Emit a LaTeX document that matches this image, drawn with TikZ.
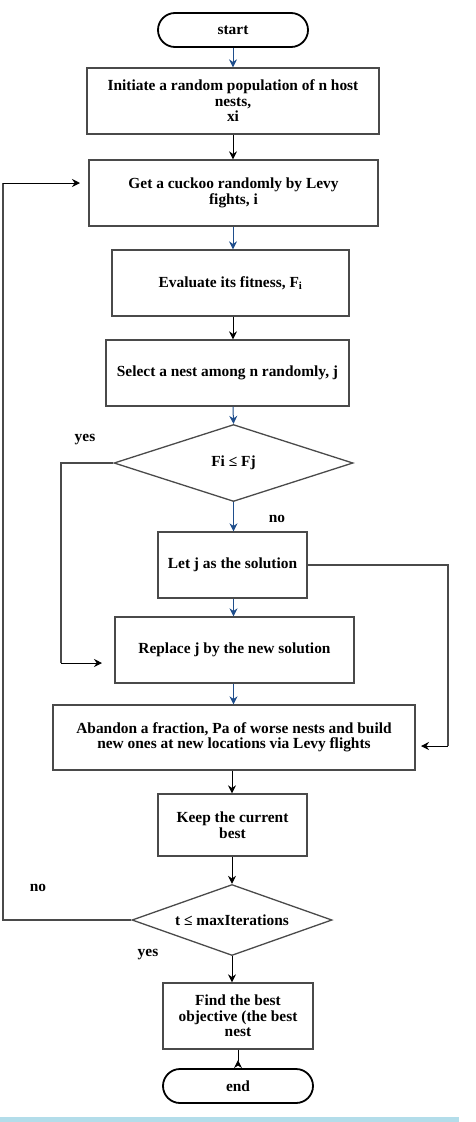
\documentclass[tikz,border=0pt]{standalone}
\usepackage{fontspec}
\setmainfont{Liberation Serif}
\usetikzlibrary{shapes.geometric,arrows.meta}
\definecolor{arrblue}{HTML}{1F4E8C}
\definecolor{boxgray}{HTML}{4A4A4A}
\definecolor{bandblue}{HTML}{B3DDEA}
\begin{document}
\begin{tikzpicture}[x=1pt,y=-1pt,
  txt/.style={font=\fontsize{15.4}{15.5}\selectfont\bfseries, align=center},
  procbox/.style={draw=boxgray, line width=1.3pt, rectangle, inner sep=2pt, txt},
  term/.style={draw=black, line width=1.8pt, rectangle, rounded corners=17pt, minimum width=150pt, minimum height=34pt, txt},
  decis/.style={draw=boxgray, line width=1.3pt, diamond, inner sep=0pt, txt},
  blk/.style={draw=black, line width=1pt, -{Stealth[length=8pt,width=8pt]}},
  blu/.style={draw=arrblue, line width=1pt, -{Stealth[length=8pt,width=8pt]}},
  lin/.style={draw=boxgray, line width=1.3pt},
  lbl/.style={font=\fontsize{15.4}{15.5}\selectfont\bfseries}
]
\useasboundingbox (0,0) rectangle (475,1122);
\fill[bandblue] (0,1117) rectangle (459,1122);

\node[term] (start) at (233,30) {start};
\node[procbox, minimum width=292pt, minimum height=66pt] (init) at (233,101)
  {Initiate a random population of n host\\nests,\\xi};
\node[procbox, minimum width=289pt, minimum height=66pt] (cuckoo) at (233.5,193)
  {Get a cuckoo randomly by Levy\\fights, i};
\node[procbox, minimum width=237pt, minimum height=66pt] (eval) at (230.5,283)
  {Evaluate its fitness, F\textsubscript{i}};
\node[procbox, minimum width=243pt, minimum height=66pt] (select) at (227.5,373)
  {Select a nest among n randomly, j};
\node[decis, aspect=3.1, minimum width=239pt, minimum height=77pt] (dec1) at (233.5,463) {Fi ≤ Fj};
\node[procbox, minimum width=149pt, minimum height=66pt] (let) at (232.5,565)
  {Let j as the solution};
\node[procbox, minimum width=239pt, minimum height=66pt] (replace) at (234.5,650)
  {Replace j by the new solution};
\node[procbox, minimum width=362pt, minimum height=65pt] (abandon) at (234,737.5)
  {Abandon a fraction, Pa of worse nests and build\\new ones at new locations via Levy flights};
\node[procbox, minimum width=149pt, minimum height=62pt] (keep) at (232.5,825)
  {Keep the current\\best};
\node[decis, aspect=2.8, minimum width=200pt, minimum height=71pt] (dec2) at (232,920) {t ≤ maxIterations};
\node[procbox, minimum width=150pt, minimum height=66pt] (find) at (238,1016)
  {Find the best\\objective (the best\\nest};
\node[term] (end) at (238,1086) {end};

\node[lbl] (yes1) at (85,440) {yes};
\node[lbl] (no1) at (277,519) {no};
\node[lbl] (no2) at (38,888) {no};
\node[lbl] (yes2) at (148,955) {yes};

\coordinate (c1) at (233,0);
\draw[blu] (start.south -| c1) -- (init.north -| c1);
\draw[blk] (init.south -| c1) -- (cuckoo.north -| c1);
\draw[blu] (cuckoo.south -| c1) -- (eval.north -| c1);
\draw[blk] (eval.south -| c1) -- (select.north -| c1);
\draw[blu] (select.south -| c1) -- (dec1.north);
\draw[blu] (dec1.south) -- (let.north -| dec1.south);
\draw[blu] (let.south -| dec1.south) -- (replace.north -| dec1.south);
\draw[blu] (replace.south -| dec1.south) -- (abandon.north -| dec1.south);
\draw[blk] (abandon.south -| dec2.north) -- (keep.north -| dec2.north);
\draw[blk] (keep.south -| dec2.north) -- (dec2.north);
\draw[blk] (dec2.south) -- (find.north -| dec2.south);
\draw[line width=1pt, -{Stealth[length=8pt,width=8pt,reversed]}] (find.south) -- (end.north);

\coordinate (y1a) at (61,463);
\coordinate (y1b) at (61,663);
\coordinate (y1e) at (102,663);
\draw[lin] (dec1.west) -- (y1a) -- (y1b);
\draw[blk] (y1b) -- (y1e);

\coordinate (r1a) at (448,565);
\coordinate (r1b) at (448,746);
\coordinate (r1e) at (421,746);
\draw[lin] (let.east) -- (r1a) -- (r1b);
\draw[blk] (r1b) -- (r1e);

\coordinate (l1a) at (3,920);
\coordinate (l1b) at (3,183);
\coordinate (l1e) at (80,183);
\draw[lin] (dec2.west) -- (l1a) -- (l1b);
\draw[blk] (l1b) -- (l1e);
\end{tikzpicture}
\end{document}
